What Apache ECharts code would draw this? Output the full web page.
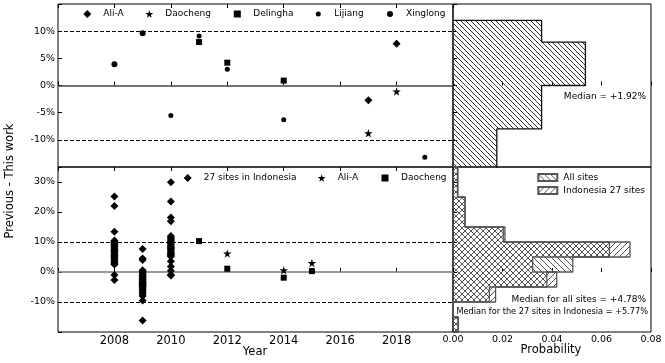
<!DOCTYPE html>
<html><head><meta charset="utf-8">
<script src="https://cdn.jsdelivr.net/npm/echarts@6/dist/echarts.min.js"></script>
<style>html,body{margin:0;padding:0;background:#fff}#c{width:665px;height:363px}</style>
</head><body><div id="c"></div>
<script>
// ---- data: top panel (year, Previous - This work %) ----
const topAliA = [[2017, -2.7], [2018, 7.7]];
const topDaocheng = [[2017, -8.8], [2018, -1.1]];
const topDelingha = [[2011, 8.0], [2012, 4.2], [2014, 0.9]];
const topLijiang = [[2010, -5.5], [2011, 9.1], [2012, 3.0], [2014, -6.3], [2019, -13.2]];
const topXinglong = [[2008, 3.9], [2009, 9.6]];
// ---- data: bottom panel ----
const indo2008 = [25.2, 22.0, 13.4, 10.5, 10.1, 9.9, 9.6, 9.2, 8.8, 8.4, 8.0, 7.6, 7.2, 6.8, 6.4, 6.0, 5.7, 5.4, 5.1, 4.8, 4.3, 3.8, 3.3, 2.9, 2.5, -1.0, -2.7];
const indo2009 = [7.7, 4.5, 4.0, 0.6, 0.2, -0.3, -0.7, -1.1, -1.5, -1.9, -2.3, -2.7, -3.1, -3.5, -3.8, -4.1, -4.4, -4.7, -4.9, -5.3, -5.8, -6.3, -6.8, -7.3, -8.0, -9.5, -16.2];
const indo2010 = [29.9, 23.5, 18.2, 16.9, 12.0, 11.5, 11.0, 10.6, 10.2, 9.8, 9.4, 9.0, 8.6, 8.2, 7.8, 7.4, 7.0, 6.6, 6.2, 5.8, 5.5, 5.2, 3.6, 1.8, 0.4, -0.9, -1.2];
const botAliA = [[2012, 6.2], [2014, 0.6], [2015, 3.0]];
const botDaocheng = [[2011, 10.3], [2012, 1.1], [2014, -1.9], [2015, 0.3]];
// ---- data: histograms (bin edges in %, probability density) ----
const topEdges = [-16, -12, -8, -4, 0, 4, 8, 12];
const topProb = [0.0177, 0.0177, 0.0358, 0.0358, 0.0535, 0.0535, 0.0358];
const botEdges = [-20, -15, -10, -5, 0, 5, 10, 15, 20, 25, 30, 35];
const allProb = [0.0020, 0, 0.0147, 0.0379, 0.0484, 0.0632, 0.0203, 0.0048, 0.0048, 0.0018, 0.0018];
const indoProb = [0.0022, 0, 0.0172, 0.0419, 0.0322, 0.0715, 0.0210, 0.0049, 0.0049, 0.0020, 0.0020];
const yearTicks = [2008, 2010, 2012, 2014, 2016, 2018];

const FONT = 'DejaVu Sans';
const STAR = 'path://M0,-1L0.2245,-0.309L0.951,-0.309L0.363,0.118L0.588,0.809L0,0.382L-0.588,0.809L-0.363,0.118L-0.951,-0.309L-0.2245,-0.309Z';

function hatch(size, dir, color, lw) {
  const c = document.createElement('canvas');
  c.width = c.height = size;
  const g = c.getContext('2d');
  g.strokeStyle = color; g.lineWidth = lw;
  g.beginPath();
  for (let k = -1; k <= 1; k++) {
    if (dir === 'back') { g.moveTo(k * size, 0); g.lineTo(k * size + size, size); }
    else { g.moveTo(k * size, size); g.lineTo(k * size + size, 0); }
  }
  g.stroke();
  return { image: c, repeat: 'repeat' };
}
const patTop = hatch(5, 'back', '#333', 1);
const patAll = hatch(6, 'back', '#555', 1);
const patIndo = hatch(6, 'fwd', '#555', 1);

function bins(edges, probs) { return probs.map((p, i) => [edges[i], edges[i + 1], p]); }
function stepPath(edges, probs) {
  const pts = [[0, edges[edges.length - 1]]];
  for (let i = probs.length - 1; i >= 0; i--) { pts.push([probs[i], edges[i + 1]]); pts.push([probs[i], edges[i]]); }
  pts.push([0, edges[0]]);
  return pts;
}
function histSeries(name, edges, probs, pat, xi, yi, stroke) {
  return [{
    name: name, type: 'custom', xAxisIndex: xi, yAxisIndex: yi, clip: true,
    itemStyle: { color: pat, borderColor: stroke, borderWidth: 1 },
    encode: { x: 2, y: [0, 1] },
    data: bins(edges, probs),
    renderItem: function (params, api) {
      const a = api.coord([0, api.value(0)]);
      const b = api.coord([api.value(2), api.value(1)]);
      return { type: 'rect', shape: { x: a[0], y: b[1], width: b[0] - a[0], height: a[1] - b[1] }, style: { fill: pat, stroke: null } };
    }
  }, {
    type: 'line', xAxisIndex: xi, yAxisIndex: yi, symbol: 'none', silent: true, z: 4,
    lineStyle: { color: stroke, width: 1.3 }, data: stepPath(edges, probs)
  }];
}
function yr(year, arr) { return arr.map(v => [year, v]); }

const refLines = (zeroColor) => ({
  silent: true, symbol: ['none', 'none'], label: { show: false }, animation: false,
  data: [
    { yAxis: 10, lineStyle: { color: '#000', width: 1, type: [4, 2] } },
    { yAxis: -10, lineStyle: { color: '#000', width: 1, type: [4, 2] } },
    { yAxis: 0, lineStyle: { color: zeroColor, width: 1.5, type: 'solid' } }
  ]
});

const tick = { show: true, inside: true, length: 4, lineStyle: { color: '#000', width: 1 } };
const noLine = { show: false };
const L = 58, R = 453, HR = 651;
const grids = [
  { left: L, top: 4, width: R - L, height: 163, show: true, borderColor: '#000', borderWidth: 1 },
  { left: L, top: 167, width: R - L, height: 165, show: true, borderColor: '#000', borderWidth: 1 },
  { left: R, top: 4, width: HR - R, height: 163, show: true, borderColor: '#000', borderWidth: 1 },
  { left: R, top: 167, width: HR - R, height: 165, show: true, borderColor: '#000', borderWidth: 1 }
];
const yrAxis = (gi, pos, labels) => ({
  type: 'value', gridIndex: gi, position: pos, min: 2006, max: 2020, interval: 2,
  axisLine: noLine, splitLine: { show: false }, axisTick: tick,
  axisLabel: { show: labels, margin: 3, fontFamily: FONT, fontSize: 11.5, color: '#000',
    formatter: v => (yearTicks.indexOf(v) >= 0 ? String(v) : '') }
});
const probAxis = (gi, labels) => ({
  type: 'value', gridIndex: gi, min: 0, max: 0.08, interval: 0.02,
  axisLine: noLine, splitLine: { show: false }, axisTick: tick,
  axisLabel: { show: labels, margin: 3, fontFamily: FONT, fontSize: 9.5, color: '#000', formatter: v => v.toFixed(2) }
});
const pctAxis = (gi, min, max, itv, labels, hide) => ({
  type: 'value', gridIndex: gi, min: min, max: max, interval: itv,
  axisLine: noLine, splitLine: { show: false }, axisTick: tick,
  axisLabel: { show: labels, margin: 3, fontFamily: FONT, fontSize: 9.5, color: '#000',
    formatter: v => (hide(v) ? '' : v + '%') }
});

const legTxt = { fontFamily: FONT, fontSize: 9, color: '#000', padding: [0, 0, 0, 7] };
function leg(name, cx, cy, label, w, h, extra) {
  w = w || 8; h = h || 8;
  return Object.assign({
    data: [name], left: cx - w / 2, top: cy - 6.5, padding: 0, itemWidth: w, itemHeight: h,
    selectedMode: false, textStyle: Object.assign({}, legTxt, { padding: [0, 0, 0, 11 - w / 2] }),
    formatter: () => label || name
  }, extra || {});
}
const sc = (name, xi, yi, data, symbol, size, extra) => Object.assign({
  name: name, type: 'scatter', xAxisIndex: xi, yAxisIndex: yi, data: data, symbol: symbol, symbolSize: size,
  itemStyle: { color: '#000', opacity: 1 }, z: 5
}, extra || {});

const option = {
  animation: false,
  grid: grids,
  xAxis: [yrAxis(0, 'bottom', false), yrAxis(0, 'top', false), yrAxis(1, 'bottom', true), yrAxis(1, 'top', false),
    probAxis(2, false), probAxis(3, true)],
  yAxis: [
    pctAxis(0, -15, 15, 5, true, v => Math.abs(v) >= 15),
    pctAxis(1, -20, 35, 10, true, v => v <= -20 || v >= 35),
    pctAxis(2, -15, 15, 5, false, v => true),
    pctAxis(3, -20, 35, 10, false, v => true)
  ],
  legend: [
    leg('Ali-A', 87.3, 16), leg('Daocheng', 149.3, 16), leg('Delingha', 237.3, 16, null, 7, 7),
    leg('Lijiang', 318.3, 16, null, 5, 5), leg('Xinglong', 390, 16, null, 6, 6),
    leg('27 sites in Indonesia', 187.7, 180), leg('Ali-A (b)', 321.7, 180, 'Ali-A'), leg('Daocheng (b)', 385, 180, 'Daocheng', 7, 7),
    { data: ['All sites'], left: 537.3, top: 173, padding: 0, itemWidth: 19, itemHeight: 7, icon: 'rect', selectedMode: false,
      textStyle: Object.assign({}, legTxt, { padding: [0, 0, 0, 1] }) },
    { data: ['Indonesia 27 sites'], left: 537.3, top: 186, padding: 0, itemWidth: 19, itemHeight: 7, icon: 'rect', selectedMode: false,
      textStyle: Object.assign({}, legTxt, { padding: [0, 0, 0, 1] }) }
  ],
  series: [
    sc('Xinglong', 0, 0, topXinglong, 'circle', 6, { markLine: refLines('#444') }),
    sc('Ali-A', 0, 0, topAliA, 'diamond', 8),
    sc('Daocheng', 0, 0, topDaocheng, STAR, 8.5),
    sc('Delingha', 0, 0, topDelingha, 'rect', 6),
    sc('Lijiang', 0, 0, topLijiang, 'circle', 5),
    sc('27 sites in Indonesia', 2, 1, yr(2008, indo2008).concat(yr(2009, indo2009), yr(2010, indo2010)), 'diamond', 8,
      { markLine: refLines('#777') }),
    sc('Ali-A (b)', 2, 1, botAliA, STAR, 8.5),
    sc('Daocheng (b)', 2, 1, botDaocheng, 'rect', 6)
  ].concat(
    histSeries('Top hist', topEdges, topProb, patTop, 4, 2, '#111'),
    histSeries('All sites', botEdges, allProb, patAll, 5, 3, '#555'),
    histSeries('Indonesia 27 sites', botEdges, indoProb, patIndo, 5, 3, '#555')
  ),
  graphic: [
    { type: 'text', x: 10, y: 181, rotation: Math.PI / 2, style: { text: 'Previous - This work', font: '11.5px "DejaVu Sans"', fill: '#000', textAlign: 'center', textVerticalAlign: 'middle' } },
    { type: 'text', x: 255, y: 352, style: { text: 'Year', font: '11.5px "DejaVu Sans"', fill: '#000', textAlign: 'center', textVerticalAlign: 'middle' } },
    { type: 'text', x: 551, y: 350, style: { text: 'Probability', font: '11.5px "DejaVu Sans"', fill: '#000', textAlign: 'center', textVerticalAlign: 'middle' } },
    { type: 'text', x: 646, y: 97, style: { text: 'Median = +1.92%', font: '9px "DejaVu Sans"', fill: '#000', textAlign: 'right', textVerticalAlign: 'middle' } },
    { type: 'text', x: 646, y: 300, style: { text: 'Median for all sites = +4.78%', font: '9px "DejaVu Sans"', fill: '#000', textAlign: 'right', textVerticalAlign: 'middle' } },
    { type: 'text', x: 648, y: 312, style: { text: 'Median for the 27 sites in Indonesia = +5.77%', font: '8.2px "DejaVu Sans"', fill: '#000', textAlign: 'right', textVerticalAlign: 'middle' } }
  ]
};
const chart = echarts.init(document.getElementById('c'), null, { renderer: 'canvas' });
chart.setOption(option);
</script></body></html>
